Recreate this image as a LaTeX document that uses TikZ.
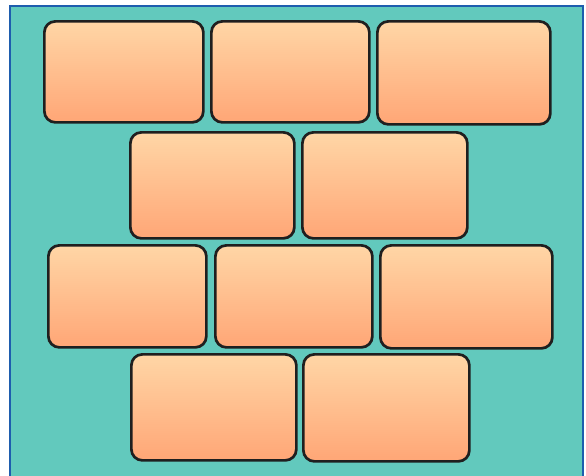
\documentclass[tikz,border=0pt]{standalone}
\usetikzlibrary{positioning}
\definecolor{teal1}{HTML}{62C9BD}
\definecolor{frameblue}{HTML}{1E5DAE}
\definecolor{bricktop}{HTML}{FFD6A6}
\definecolor{brickbot}{HTML}{FFA676}
\tikzset{
  brick/.style={draw=black!88, line width=2.7pt, rounded corners=11pt,
    top color=bricktop, bottom color=brickbot, inner sep=0pt, anchor=north west}
}
\newcommand{\brick}[5]{% name, x1, y1, x2, y2
  \node[brick, minimum width={(#4-#2)*1pt}, minimum height={(#5-#3)*1pt}] (#1) at (#2,#3) {};}
\begin{document}
\begin{tikzpicture}[x=1pt,y=-1pt]
\useasboundingbox (0,0) rectangle (586,475);
\fill[white] (0,0) rectangle (586,475);
\begin{scope}
\clip (0,0) rectangle (586,475);
\draw[frameblue, line width=2.5pt, fill=teal1] (10,6) rectangle (583,480);
\end{scope}
\brick{b1}{43}{20}{202}{121}
\brick{b2}{210}{20}{368}{121}
\brick{b3}{376}{20}{549}{123}
\brick{b4}{129}{131}{293}{237}
\brick{b5}{301}{131}{466}{237}
\brick{b6}{47}{244}{205}{346}
\brick{b7}{214}{244}{371}{346}
\brick{b8}{379}{244}{551}{347}
\brick{b9}{130}{353}{295}{459}
\brick{b10}{302}{353}{468}{460}
\end{tikzpicture}
\end{document}
